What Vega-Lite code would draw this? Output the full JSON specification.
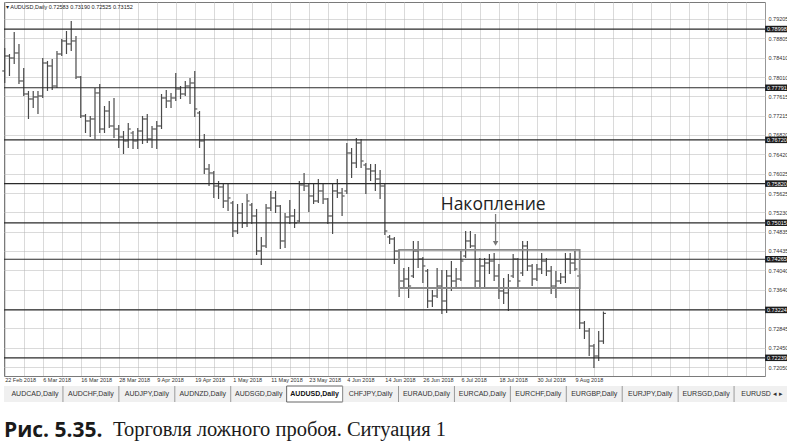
{
"$schema": "https://vega.github.io/schema/vega-lite/v6.json",
"padding": {"left": 1, "top": 1, "right": 0, "bottom": 4},
"background": "white",
"spacing": 2,
"config": {
"view": {"stroke": null},
"axis": {"grid": true, "gridColor": "#b4b4b4", "gridDash": [1, 1], "gridWidth": 1, "gridOpacity": 1,
"labelOverlap": false, "labelFlush": false, "labelBound": false, "ticks": false, "domain": false,
"labelFont": "Liberation Sans", "labelFontSize": 5.5, "labelColor": "#333333"}
},
"datasets": {
"bars": [
{"d":"2018-02-22","t":0,"o":0.78136,"h":0.78609,"l":0.77889,"c":0.78444},
{"d":"2018-02-23","t":1,"o":0.78444,"h":0.78485,"l":0.78033,"c":0.78403},
{"d":"2018-02-26","t":2,"o":0.78403,"h":0.78938,"l":0.7828,"c":0.78506},
{"d":"2018-02-27","t":3,"o":0.78506,"h":0.78691,"l":0.77869,"c":0.7793},
{"d":"2018-02-28","t":4,"o":0.7793,"h":0.78198,"l":0.77622,"c":0.77663},
{"d":"2018-03-01","t":5,"o":0.77663,"h":0.77725,"l":0.77149,"c":0.7756},
{"d":"2018-03-02","t":6,"o":0.7756,"h":0.77725,"l":0.77375,"c":0.77601},
{"d":"2018-03-05","t":7,"o":0.77601,"h":0.77725,"l":0.77252,"c":0.77622},
{"d":"2018-03-06","t":8,"o":0.77622,"h":0.78403,"l":0.77581,"c":0.783},
{"d":"2018-03-07","t":9,"o":0.783,"h":0.78342,"l":0.77725,"c":0.78239},
{"d":"2018-03-08","t":10,"o":0.78239,"h":0.78383,"l":0.77745,"c":0.77827},
{"d":"2018-03-09","t":11,"o":0.77827,"h":0.78547,"l":0.77786,"c":0.78485},
{"d":"2018-03-12","t":12,"o":0.78485,"h":0.78794,"l":0.78444,"c":0.78753},
{"d":"2018-03-13","t":13,"o":0.78753,"h":0.78958,"l":0.78485,"c":0.78691},
{"d":"2018-03-14","t":14,"o":0.78691,"h":0.79164,"l":0.78547,"c":0.78753},
{"d":"2018-03-15","t":15,"o":0.78753,"h":0.78855,"l":0.77971,"c":0.78012},
{"d":"2018-03-16","t":16,"o":0.78012,"h":0.78033,"l":0.7717,"c":0.77211},
{"d":"2018-03-19","t":17,"o":0.77211,"h":0.77252,"l":0.76861,"c":0.77108},
{"d":"2018-03-20","t":18,"o":0.77108,"h":0.77211,"l":0.76779,"c":0.77149},
{"d":"2018-03-21","t":19,"o":0.77149,"h":0.77786,"l":0.76738,"c":0.77684},
{"d":"2018-03-22","t":20,"o":0.77684,"h":0.77869,"l":0.76861,"c":0.76943},
{"d":"2018-03-23","t":21,"o":0.76943,"h":0.77416,"l":0.76861,"c":0.77313},
{"d":"2018-03-26","t":22,"o":0.77313,"h":0.77519,"l":0.76964,"c":0.77005},
{"d":"2018-03-27","t":23,"o":0.77005,"h":0.77581,"l":0.76758,"c":0.76943},
{"d":"2018-03-28","t":24,"o":0.76943,"h":0.77026,"l":0.76553,"c":0.76779},
{"d":"2018-03-29","t":25,"o":0.76779,"h":0.76902,"l":0.76429,"c":0.76697},
{"d":"2018-03-30","t":26,"o":0.76697,"h":0.77067,"l":0.76553,"c":0.76943},
{"d":"2018-04-02","t":27,"o":0.76861,"h":0.76902,"l":0.76532,"c":0.76697},
{"d":"2018-04-03","t":28,"o":0.76697,"h":0.76964,"l":0.76532,"c":0.76902},
{"d":"2018-04-04","t":29,"o":0.76902,"h":0.77211,"l":0.76635,"c":0.77149},
{"d":"2018-04-05","t":30,"o":0.77149,"h":0.77252,"l":0.76656,"c":0.76738},
{"d":"2018-04-06","t":31,"o":0.76738,"h":0.77005,"l":0.76553,"c":0.76943},
{"d":"2018-04-09","t":32,"o":0.76943,"h":0.77108,"l":0.76532,"c":0.77005},
{"d":"2018-04-10","t":33,"o":0.77005,"h":0.77663,"l":0.76943,"c":0.77581},
{"d":"2018-04-11","t":34,"o":0.77581,"h":0.77745,"l":0.77375,"c":0.77519},
{"d":"2018-04-12","t":35,"o":0.77519,"h":0.77684,"l":0.77375,"c":0.77581},
{"d":"2018-04-13","t":36,"o":0.77581,"h":0.78095,"l":0.77519,"c":0.77766},
{"d":"2018-04-16","t":37,"o":0.77766,"h":0.77827,"l":0.7756,"c":0.77663},
{"d":"2018-04-17","t":38,"o":0.77663,"h":0.7793,"l":0.77622,"c":0.77827},
{"d":"2018-04-18","t":39,"o":0.77827,"h":0.77992,"l":0.77457,"c":0.77889},
{"d":"2018-04-19","t":40,"o":0.77889,"h":0.78136,"l":0.7719,"c":0.77355},
{"d":"2018-04-20","t":41,"o":0.77272,"h":0.77313,"l":0.76553,"c":0.76697},
{"d":"2018-04-23","t":42,"o":0.76697,"h":0.76841,"l":0.76018,"c":0.76121},
{"d":"2018-04-24","t":43,"o":0.76121,"h":0.76224,"l":0.75771,"c":0.76039},
{"d":"2018-04-25","t":44,"o":0.76039,"h":0.7608,"l":0.75525,"c":0.75771},
{"d":"2018-04-26","t":45,"o":0.75771,"h":0.75874,"l":0.75504,"c":0.75751},
{"d":"2018-04-27","t":46,"o":0.75751,"h":0.75833,"l":0.75319,"c":0.75463},
{"d":"2018-04-30","t":47,"o":0.75463,"h":0.75813,"l":0.75257,"c":0.75525},
{"d":"2018-05-01","t":48,"o":0.75422,"h":0.75463,"l":0.74723,"c":0.74846},
{"d":"2018-05-02","t":49,"o":0.74846,"h":0.75401,"l":0.74785,"c":0.75216},
{"d":"2018-05-03","t":50,"o":0.75216,"h":0.75422,"l":0.74908,"c":0.75011},
{"d":"2018-05-04","t":51,"o":0.75011,"h":0.75607,"l":0.74928,"c":0.75463},
{"d":"2018-05-07","t":52,"o":0.75381,"h":0.75422,"l":0.7499,"c":0.75155},
{"d":"2018-05-08","t":53,"o":0.75155,"h":0.75299,"l":0.74353,"c":0.74435},
{"d":"2018-05-09","t":54,"o":0.74435,"h":0.74723,"l":0.74147,"c":0.74538},
{"d":"2018-05-10","t":55,"o":0.74538,"h":0.75401,"l":0.74497,"c":0.75319},
{"d":"2018-05-11","t":56,"o":0.75319,"h":0.75669,"l":0.75257,"c":0.75525},
{"d":"2018-05-14","t":57,"o":0.75525,"h":0.75669,"l":0.75216,"c":0.7536},
{"d":"2018-05-15","t":58,"o":0.7536,"h":0.75381,"l":0.74476,"c":0.74641},
{"d":"2018-05-16","t":59,"o":0.74641,"h":0.75216,"l":0.74497,"c":0.75134},
{"d":"2018-05-17","t":60,"o":0.75134,"h":0.75484,"l":0.7499,"c":0.75155},
{"d":"2018-05-18","t":61,"o":0.75155,"h":0.75299,"l":0.74908,"c":0.75011},
{"d":"2018-05-21","t":62,"o":0.75052,"h":0.75874,"l":0.75031,"c":0.75792},
{"d":"2018-05-22","t":63,"o":0.75792,"h":0.76039,"l":0.75669,"c":0.75771},
{"d":"2018-05-23","t":64,"o":0.75771,"h":0.75813,"l":0.75237,"c":0.75566},
{"d":"2018-05-24","t":65,"o":0.75566,"h":0.75813,"l":0.75401,"c":0.75463},
{"d":"2018-05-25","t":66,"o":0.75463,"h":0.75915,"l":0.75422,"c":0.75669},
{"d":"2018-05-28","t":67,"o":0.75669,"h":0.75813,"l":0.75401,"c":0.75504},
{"d":"2018-05-29","t":68,"o":0.75504,"h":0.75525,"l":0.7499,"c":0.75155},
{"d":"2018-05-30","t":69,"o":0.75155,"h":0.75833,"l":0.74785,"c":0.75669},
{"d":"2018-05-31","t":70,"o":0.75669,"h":0.75915,"l":0.75525,"c":0.75628},
{"d":"2018-06-01","t":71,"o":0.75628,"h":0.7573,"l":0.75155,"c":0.75566},
{"d":"2018-06-04","t":72,"o":0.75669,"h":0.76656,"l":0.75607,"c":0.7645},
{"d":"2018-06-05","t":73,"o":0.7645,"h":0.76553,"l":0.75936,"c":0.76244},
{"d":"2018-06-06","t":74,"o":0.76244,"h":0.76758,"l":0.76142,"c":0.76656},
{"d":"2018-06-07","t":75,"o":0.76656,"h":0.76738,"l":0.76142,"c":0.76285},
{"d":"2018-06-08","t":76,"o":0.76203,"h":0.76244,"l":0.75607,"c":0.76121},
{"d":"2018-06-11","t":77,"o":0.76121,"h":0.76224,"l":0.75874,"c":0.7608},
{"d":"2018-06-12","t":78,"o":0.7608,"h":0.76224,"l":0.75669,"c":0.75915},
{"d":"2018-06-13","t":79,"o":0.75915,"h":0.761,"l":0.75504,"c":0.75771},
{"d":"2018-06-14","t":80,"o":0.75771,"h":0.75813,"l":0.74764,"c":0.74846},
{"d":"2018-06-15","t":81,"o":0.74723,"h":0.74764,"l":0.74579,"c":0.74682},
{"d":"2018-06-18","t":82,"o":0.74682,"h":0.74723,"l":0.74168,"c":0.74435},
{"d":"2018-06-19","t":83,"o":0.74435,"h":0.74456,"l":0.73489,"c":0.73818},
{"d":"2018-06-20","t":84,"o":0.73818,"h":0.74086,"l":0.73674,"c":0.73859},
{"d":"2018-06-21","t":85,"o":0.73859,"h":0.74106,"l":0.73469,"c":0.73715},
{"d":"2018-06-22","t":86,"o":0.73921,"h":0.74641,"l":0.7388,"c":0.74435},
{"d":"2018-06-25","t":87,"o":0.74435,"h":0.74641,"l":0.74086,"c":0.74271},
{"d":"2018-06-26","t":88,"o":0.74271,"h":0.74312,"l":0.73777,"c":0.74127},
{"d":"2018-06-27","t":89,"o":0.74024,"h":0.74065,"l":0.73263,"c":0.73407},
{"d":"2018-06-28","t":90,"o":0.73407,"h":0.73633,"l":0.73284,"c":0.7351},
{"d":"2018-06-29","t":91,"o":0.7351,"h":0.74086,"l":0.73469,"c":0.73715},
{"d":"2018-07-02","t":92,"o":0.73715,"h":0.74044,"l":0.7314,"c":0.73407},
{"d":"2018-07-03","t":93,"o":0.73407,"h":0.74044,"l":0.7316,"c":0.73921},
{"d":"2018-07-04","t":94,"o":0.73921,"h":0.74229,"l":0.73613,"c":0.73818},
{"d":"2018-07-05","t":95,"o":0.73818,"h":0.74086,"l":0.73674,"c":0.73859},
{"d":"2018-07-06","t":96,"o":0.73859,"h":0.74435,"l":0.73818,"c":0.74229},
{"d":"2018-07-09","t":97,"o":0.74332,"h":0.74846,"l":0.74291,"c":0.74641},
{"d":"2018-07-10","t":98,"o":0.74641,"h":0.74846,"l":0.74497,"c":0.74538},
{"d":"2018-07-11","t":99,"o":0.74538,"h":0.74785,"l":0.73674,"c":0.73818},
{"d":"2018-07-12","t":100,"o":0.73818,"h":0.74291,"l":0.73674,"c":0.74127},
{"d":"2018-07-13","t":101,"o":0.74127,"h":0.74291,"l":0.73674,"c":0.74188},
{"d":"2018-07-16","t":102,"o":0.74188,"h":0.74373,"l":0.73962,"c":0.74229},
{"d":"2018-07-17","t":103,"o":0.74229,"h":0.74394,"l":0.73818,"c":0.73921},
{"d":"2018-07-18","t":104,"o":0.73921,"h":0.74168,"l":0.73448,"c":0.73613},
{"d":"2018-07-19","t":105,"o":0.73613,"h":0.7388,"l":0.73345,"c":0.73572},
{"d":"2018-07-20","t":106,"o":0.73572,"h":0.73962,"l":0.73201,"c":0.73818},
{"d":"2018-07-23","t":107,"o":0.73921,"h":0.74373,"l":0.7388,"c":0.74271},
{"d":"2018-07-24","t":108,"o":0.74271,"h":0.74291,"l":0.73674,"c":0.73818},
{"d":"2018-07-25","t":109,"o":0.73983,"h":0.74641,"l":0.73921,"c":0.74538},
{"d":"2018-07-26","t":110,"o":0.74538,"h":0.74641,"l":0.74024,"c":0.74127},
{"d":"2018-07-27","t":111,"o":0.74127,"h":0.74168,"l":0.73715,"c":0.73859},
{"d":"2018-07-30","t":112,"o":0.73859,"h":0.74168,"l":0.73818,"c":0.74065},
{"d":"2018-07-31","t":113,"o":0.74065,"h":0.74394,"l":0.73962,"c":0.74229},
{"d":"2018-08-01","t":114,"o":0.74229,"h":0.74291,"l":0.73921,"c":0.74024},
{"d":"2018-08-02","t":115,"o":0.74024,"h":0.74127,"l":0.73551,"c":0.73715},
{"d":"2018-08-03","t":116,"o":0.73715,"h":0.74024,"l":0.73469,"c":0.73818},
{"d":"2018-08-06","t":117,"o":0.73818,"h":0.73983,"l":0.73757,"c":0.739},
{"d":"2018-08-07","t":118,"o":0.739,"h":0.74394,"l":0.73777,"c":0.74271},
{"d":"2018-08-08","t":119,"o":0.74271,"h":0.74394,"l":0.73962,"c":0.74188},
{"d":"2018-08-09","t":120,"o":0.74188,"h":0.74435,"l":0.74024,"c":0.74065},
{"d":"2018-08-10","t":121,"o":0.73921,"h":0.73962,"l":0.72831,"c":0.72955},
{"d":"2018-08-13","t":122,"o":0.72955,"h":0.72996,"l":0.72626,"c":0.7279},
{"d":"2018-08-14","t":123,"o":0.7279,"h":0.72852,"l":0.72276,"c":0.72482},
{"d":"2018-08-15","t":124,"o":0.72482,"h":0.72523,"l":0.7203,"c":0.72276},
{"d":"2018-08-16","t":125,"o":0.72276,"h":0.7279,"l":0.72173,"c":0.72583},
{"d":"2018-08-17","t":126,"o":0.72583,"h":0.7319,"l":0.72525,"c":0.73152}
],
"levels": [
{"p":0.78998},{"p":0.77791},{"p":0.7672},{"p":0.7582},{"p":0.75015},{"p":0.74265},{"p":0.73224},{"p":0.72239}
],
"tabs": [
{"tab":"AUDCAD,Daily","on":false},{"tab":"AUDCHF,Daily","on":false},{"tab":"AUDJPY,Daily","on":false},
{"tab":"AUDNZD,Daily","on":false},{"tab":"AUDSGD,Daily","on":false},{"tab":"AUDUSD,Daily","on":true},
{"tab":"CHFJPY,Daily","on":false},{"tab":"EURAUD,Daily","on":false},{"tab":"EURCAD,Daily","on":false},
{"tab":"EURCHF,Daily","on":false},{"tab":"EURGBP,Daily","on":false},{"tab":"EURJPY,Daily","on":false},
{"tab":"EURSGD,Daily","on":false},{"tab":"EURUSD  ◂  ▸","on":false}
]
},
"vconcat": [
{
"width": 761,
"height": 374,
"view": {"stroke": "#7a7a7a", "strokeWidth": 1},
"layer": [
{
"data": {"name": "bars"},
"mark": {"type": "rule", "color": "#4a4a4a", "strokeWidth": 1.2},
"encoding": {
"x": {"field": "t", "type": "quantitative", "title": null,
"scale": {"domain": [-0.15, 160], "nice": false, "zero": false},
"axis": {"title": null, "orient": "bottom", "grid": true, "labelOverlap": false, "tickCount": 200,
"values": [0,4,8,12,16,20,24,28,32,36,40,44,48,52,56,60,64,68,72,76,80,84,88,92,96,100,104,108,112,116,120,124,128,132,136,140,144,148,152,156,160],
"labelExpr": "(datum.value % 8 == 0 && datum.value <= 120) ? ['22 Feb 2018','6 Mar 2018','16 Mar 2018','28 Mar 2018','9 Apr 2018','19 Apr 2018','1 May 2018','11 May 2018','23 May 2018','4 Jun 2018','14 Jun 2018','26 Jun 2018','6 Jul 2018','18 Jul 2018','30 Jul 2018','9 Aug 2018'][datum.value / 8] : ''",
"labelAlign": "left", "labelBaseline": "top", "labelPadding": 1}},
"y": {"field": "l", "type": "quantitative", "title": null,
"scale": {"domain": [0.71865, 0.79554], "nice": false, "zero": false},
"axis": {"title": null, "orient": "right", "grid": true, "labelOverlap": false, "tickCount": 200,
"values": [0.79205,0.78805,0.7841,0.7801,0.77615,0.77215,0.7682,0.7642,0.76025,0.75625,0.7523,0.74835,0.74435,0.7404,0.7364,0.73245,0.72845,0.7245,0.7205],
"format": ".5f", "labelPadding": 3}},
"y2": {"field": "h"}
}
},
{
"data": {"name": "bars"},
"mark": {"type": "tick", "orient": "horizontal", "size": 2.2, "thickness": 1.1, "color": "#4a4a4a", "opacity": 1, "xOffset": -1.4},
"encoding": {
"x": {"field": "t", "type": "quantitative", "title": null},
"y": {"field": "o", "type": "quantitative", "title": null}
}
},
{
"data": {"name": "bars"},
"mark": {"type": "tick", "orient": "horizontal", "size": 2.2, "thickness": 1.1, "color": "#4a4a4a", "opacity": 1, "xOffset": 1.4},
"encoding": {
"x": {"field": "t", "type": "quantitative", "title": null},
"y": {"field": "c", "type": "quantitative", "title": null}
}
},
{
"data": {"name": "levels"},
"mark": {"type": "rule", "color": "#2a2a2a", "strokeWidth": 1.2},
"encoding": {
"y": {"field": "p", "type": "quantitative", "title": null}
}
},
{
"data": {"name": "levels"},
"mark": {"type": "tick", "orient": "horizontal", "size": 23.5, "thickness": 6.5, "color": "#1c1c1c", "opacity": 1},
"encoding": {
"x": {"datum": 162.5, "type": "quantitative", "title": null},
"y": {"field": "p", "type": "quantitative", "title": null}
}
},
{
"data": {"name": "levels"},
"mark": {"type": "text", "color": "white", "font": "Liberation Sans", "fontSize": 5.5, "align": "center", "baseline": "middle"},
"encoding": {
"x": {"datum": 162.5, "type": "quantitative", "title": null},
"y": {"field": "p", "type": "quantitative", "title": null},
"text": {"field": "p", "type": "quantitative", "format": ".5f"}
}
},
{
"data": {"values": [{}]},
"mark": {"type": "rect", "fillOpacity": 0, "fill": "white", "stroke": "#8a8a8a", "strokeWidth": 1.8},
"encoding": {
"x": {"datum": 83, "type": "quantitative", "title": null},
"x2": {"datum": 121},
"y": {"datum": 0.74456, "type": "quantitative", "title": null},
"y2": {"datum": 0.73674}
}
},
{
"data": {"values": [{}]},
"mark": {"type": "rule", "color": "#777777", "strokeWidth": 1.3},
"encoding": {
"x": {"datum": 103.3, "type": "quantitative", "title": null},
"y": {"datum": 0.75196, "type": "quantitative", "title": null},
"y2": {"datum": 0.7462}
}
},
{
"data": {"values": [{}]},
"mark": {"type": "point", "shape": "triangle-down", "filled": true, "size": 30, "color": "#777777", "opacity": 1},
"encoding": {
"x": {"datum": 103.3, "type": "quantitative", "title": null},
"y": {"datum": 0.7459, "type": "quantitative", "title": null}
}
},
{
"data": {"values": [{}]},
"mark": {"type": "text", "text": "Накопление", "font": "Open Sans", "fontSize": 17.5, "color": "#222222", "align": "center", "baseline": "middle"},
"encoding": {
"x": {"datum": 102.8, "type": "quantitative", "title": null},
"y": {"datum": 0.75381, "type": "quantitative", "title": null}
}
},
{
"data": {"values": [{}]},
"mark": {"type": "text", "text": "▾ AUDUSD,Daily  0.72583 0.73190 0.72525 0.73152", "font": "Liberation Sans", "fontSize": 5.5, "color": "#222222", "align": "left", "baseline": "middle", "dx": 2},
"encoding": {
"x": {"datum": -0.15, "type": "quantitative", "title": null},
"y": {"datum": 0.7945, "type": "quantitative", "title": null}
}
}
]
},
{
"width": 786,
"height": 16,
"data": {"name": "tabs"},
"view": {"fill": "#f0f0f0", "stroke": null},
"encoding": {
"x": {"field": "tab", "type": "nominal", "sort": null,
"scale": {"domain": ["AUDCAD,Daily","AUDCHF,Daily","AUDJPY,Daily","AUDNZD,Daily","AUDSGD,Daily","AUDUSD,Daily","CHFJPY,Daily","EURAUD,Daily","EURCAD,Daily","EURCHF,Daily","EURGBP,Daily","EURJPY,Daily","EURSGD,Daily","EURUSD  ◂  ▸"], "paddingInner": 0, "paddingOuter": 0.027, "align": 1},
"axis": null}
},
"layer": [
{
"transform": [{"filter": "datum.on"}],
"mark": {"type": "rect", "fill": "white", "stroke": "#666666", "strokeWidth": 1}
},
{
"transform": [{"filter": "datum.tab != 'AUDCAD,Daily' && !datum.on"}],
"mark": {"type": "rule", "color": "#9a9a9a", "strokeWidth": 1},
"encoding": {
"x": {"field": "tab", "type": "nominal", "sort": null, "bandPosition": 0,
"scale": {"domain": ["AUDCAD,Daily","AUDCHF,Daily","AUDJPY,Daily","AUDNZD,Daily","AUDSGD,Daily","AUDUSD,Daily","CHFJPY,Daily","EURAUD,Daily","EURCAD,Daily","EURCHF,Daily","EURGBP,Daily","EURJPY,Daily","EURSGD,Daily","EURUSD  ◂  ▸"], "paddingInner": 0, "paddingOuter": 0.027, "align": 1},
"axis": null}
}
},
{
"transform": [{"filter": "!datum.on"}],
"mark": {"type": "text", "font": "Liberation Sans", "fontSize": 7, "color": "#333333", "align": "center", "baseline": "middle"},
"encoding": {"text": {"field": "tab", "type": "nominal"}}
},
{
"transform": [{"filter": "datum.on"}],
"mark": {"type": "text", "font": "Liberation Sans", "fontSize": 7, "fontWeight": "bold", "color": "#111111", "align": "center", "baseline": "middle"},
"encoding": {"text": {"field": "tab", "type": "nominal"}}
}
]
},
{
"spacing": 1,
"hconcat": [
{
"width": 108,
"height": 13,
"data": {"values": [{}]},
"mark": {"type": "text", "text": ""},
"encoding": {},
"title": {"text": "Рис. 5.35.", "orient": "bottom", "anchor": "start", "offset": 2, "font": "Open Sans", "fontSize": 21, "fontWeight": "bold", "color": "#1a1a1a"}
},
{
"width": 340,
"height": 13,
"data": {"values": [{}]},
"mark": {"type": "text", "text": ""},
"encoding": {},
"title": {"text": "Торговля ложного пробоя. Ситуация 1", "orient": "bottom", "anchor": "start", "offset": 2, "font": "Liberation Serif", "fontSize": 20.5, "fontWeight": "normal", "color": "#1a1a1a"}
}
]
}
]
}
